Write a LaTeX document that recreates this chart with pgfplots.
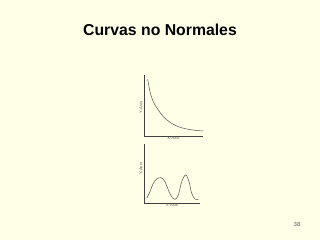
\documentclass[border=0pt]{standalone}
\usepackage{fontspec}
\setmainfont{Liberation Sans}
\usepackage{pgfplots}
\pgfplotsset{compat=1.18}
\definecolor{bgcream}{RGB}{255,255,232}
\definecolor{curvegray}{RGB}{80,80,80}
\definecolor{labelgray}{RGB}{90,90,90}
\begin{document}
\begin{tikzpicture}
\fill[bgcream] (0,0) rectangle (320pt,240pt);
\node[font=\fontsize{15.8}{18}\selectfont\bfseries] at (160pt,210pt) {Curvas no Normales};
\node[font=\fontsize{6}{7}\selectfont, text=labelgray] at (297pt,16pt) {38};
\pgfplotsset{slidechart/.style={
  scale only axis,
  axis x line*=bottom, axis y line*=left,
  axis line style={-, draw=black!75, line width=0.6pt},
  xtick=\empty, ytick=\empty,
  tick style={draw=none},
  label style={font=\fontsize{4.2}{5}\selectfont, text=labelgray},
  xlabel style={at={(axis description cs:0.5,0)}, anchor=north, inner sep=0.6pt},
  clip=false,
}}
% top chart
\begin{axis}[slidechart,
  at={(144pt,104pt)}, anchor=south west,
  width=59pt, height=61pt,
  xmin=144, xmax=203, ymin=0, ymax=61,
  ylabel style={at={(axis description cs:0,0.47)}, anchor=south, inner sep=1.5pt},
  xlabel={X-Axis}, ylabel={Y-Axis}]
\addplot[curvegray, line width=0.5pt, smooth, tension=0.5] coordinates {
(147.7,57) (150,44.3) (153.3,34.3) (158.3,26) (163.3,19.3) (170,13.7)
(178.3,9.3) (186.7,7) (195,5.7) (203,5)};
\end{axis}
% bottom chart
\begin{axis}[slidechart,
  at={(144pt,37pt)}, anchor=south west,
  width=56pt, height=59pt,
  xmin=144, xmax=200, ymin=0, ymax=59,
  ylabel style={at={(axis description cs:0,0.58)}, anchor=south, inner sep=1.5pt},
  xlabel={X-Axis}, ylabel={Y-Axis}]
\addplot[curvegray, line width=0.5pt, smooth, tension=0.6] coordinates {
(146.7,4.7) (150,11.3) (153.3,19.7) (156.7,24) (161,25.3) (165,21.3)
(168.3,13) (171.7,6.3) (175,3.7) (178.3,8) (181.7,21.3) (185.7,28)
(189,21.3) (191.7,9.7) (195,4) (198.3,3.7)};
\end{axis}
\end{tikzpicture}
\end{document}
